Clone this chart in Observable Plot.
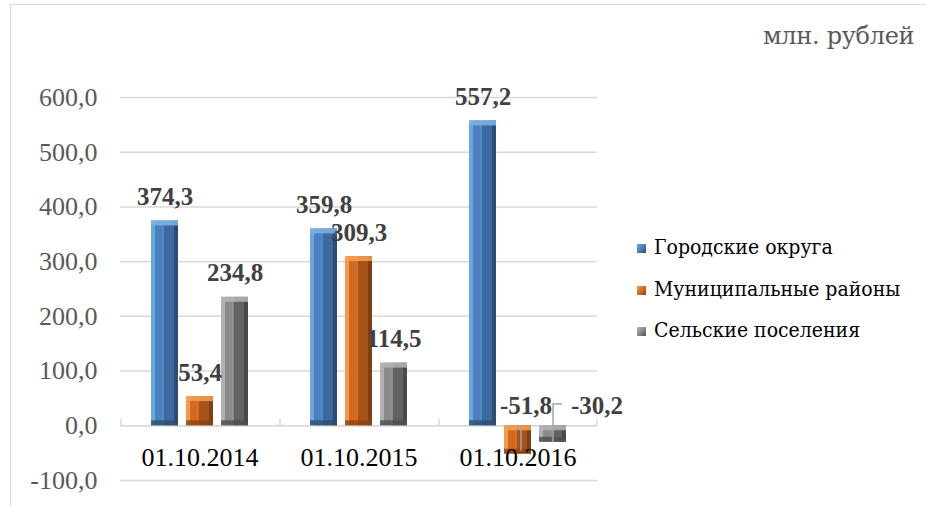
<!DOCTYPE html>
<html>
<head>
<meta charset="utf-8">
<script src="https://cdn.jsdelivr.net/npm/d3@7"></script>
<script src="https://cdn.jsdelivr.net/npm/@observablehq/plot@0.6"></script>
<style>
  body { margin: 0; background: #fff; }
  #wrap { position: relative; width: 926px; height: 506px; overflow: hidden; font-family: "DejaVu Serif", serif; }
  #frameBorder { position: absolute; left: 10px; top: 4px; width: 960px; height: 540px; border: 1.5px solid #d9d9d9; box-sizing: border-box; }
  #chart { position: absolute; left: 0; top: 0; }
  #unit { position: absolute; left: 763px; top: 22px; font-size: 24px; color: #595959; white-space: nowrap; font-family: "DejaVu Serif", serif; letter-spacing: -0.3px; }
  .leg { position: absolute; left: 637px; font-size: 21px; color: #000; white-space: nowrap; line-height: 24px; font-family: "DejaVu Serif Condensed", "DejaVu Serif", serif; }
  .leg .sw { display: inline-block; width: 9px; height: 9px; margin-right: 8px; vertical-align: 1px; }
</style>
</head>
<body>
<div id="wrap">
  <div id="frameBorder"></div>
  <div id="chart"></div>
  <div id="unit">млн. рублей</div>
  <div id="legend"></div>
</div>
<script>
// ---- data ----
const dates = ["01.10.2014", "01.10.2015", "01.10.2016"];
const series = ["Городские округа", "Муниципальные районы", "Сельские поселения"];
const gorodskieOkruga = [374.3, 359.8, 557.2];
const municipalnyeRayony = [53.4, 309.3, -51.8];
const selskiePoseleniya = [234.8, 114.5, -30.2];
const yTicks = [-100, 0, 100, 200, 300, 400, 500, 600];

const seriesValues = [gorodskieOkruga, municipalnyeRayony, selskiePoseleniya];
const gradIds = ["gBlue", "gOrange", "gGray"];
const capColors = ["#7db4e8", "#f7a053", "#b5b5b5"];
const baseColors = ["#2c4d74", "#8a4413", "#4d4d4d"];
const legendBg = [
  "linear-gradient(135deg,#6aa6df 0%,#4a80bd 50%,#2c4d74 100%)",
  "linear-gradient(135deg,#f7a053 0%,#d2691e 50%,#8a4413 100%)",
  "linear-gradient(135deg,#b5b5b5 0%,#8a8a8a 50%,#4d4d4d 100%)"
];

const rows = [];
dates.forEach((d, i) => series.forEach((s, j) => rows.push({date: d, series: s, si: j, value: seriesValues[j][i]})));
const pos = rows.filter(r => r.value >= 0);
const neg = rows.filter(r => r.value < 0);
const fmt = v => v.toFixed(1).replace(".", ",");

const marks = [
  Plot.gridY(yTicks, {stroke: "#d9d9d9", strokeOpacity: 1, strokeWidth: 1.5}),
  Plot.ruleY([0], {stroke: "#d9d9d9", strokeWidth: 1.5}),
  Plot.ruleX(dates, {fx: d => d, x: () => series[0], dx: -44, y1: 0, y2: 12, stroke: "#d9d9d9", strokeWidth: 1.5}),
  Plot.ruleX([dates[2]], {fx: d => d, x: () => series[2], dx: 44, y1: 0, y2: 12, stroke: "#d9d9d9", strokeWidth: 1.5}),
  Plot.axisY({ticks: yTicks, tickSize: 0, tickPadding: 23, tickFormat: fmt, fill: "#595959", fontSize: 26, label: null}),
];
series.forEach((s, j) => {
  const data = rows.filter(r => r.si === j);
  marks.push(Plot.barY(data, {fx: "date", x: "series", y: "value", fill: `url(#${gradIds[j]})`}));
  marks.push(Plot.rect(data, {fx: "date", x: "series", y1: d => Math.max(d.value, 0), y2: d => Math.max(d.value, 0), insetBottom: -5, fill: capColors[j], fillOpacity: 0.85}));
  marks.push(Plot.rect(data, {fx: "date", x: "series", y1: d => Math.min(d.value, 0), y2: d => Math.min(d.value, 0), insetTop: -5, fill: baseColors[j], fillOpacity: 0.8}));
});
marks.push(
  Plot.text(dates, {fx: d => d, text: d => d, y: () => -58, fontSize: 26, fill: "#000"}),
  Plot.text(pos, {fx: "date", x: "series", y: "value", text: d => fmt(d.value), dy: -24, fontSize: 25, fontWeight: "bold", fill: "#404040"}),
  Plot.ruleX([neg[0]], {fx: "date", x: "series", y1: -3, y2: -46, dx: 3, stroke: "#a6a6a6", strokeWidth: 1.5}),
  Plot.ruleX([neg[1]], {fx: "date", x: "series", y1: -31, y2: 40, stroke: "#a6a6a6", strokeWidth: 1.5}),
  Plot.tickY([neg[1]], {fx: "date", x: "series", y: () => 40, insetLeft: 14, insetRight: 4, stroke: "#a6a6a6", strokeWidth: 1.5}),
  Plot.text([neg[0]], {fx: "date", x: "series", y: () => 0, text: d => fmt(d.value), dx: 8, dy: -20, fontSize: 25, fontWeight: "bold", fill: "#404040"}),
  Plot.text([neg[1]], {fx: "date", x: "series", y: () => 0, text: d => fmt(d.value), dx: 44, dy: -20, fontSize: 25, fontWeight: "bold", fill: "#404040"})
);

const chart = Plot.plot({
  width: 926,
  height: 506,
  marginLeft: 119,
  marginRight: 328,
  marginTop: 97,
  marginBottom: 26,
  style: {fontFamily: "'Liberation Serif', 'Times New Roman', serif", fontSize: "26px", background: "transparent", overflow: "visible"},
  fx: {domain: dates, padding: 0, axis: null, label: null},
  x: {domain: series, paddingInner: 0.222, paddingOuter: 0.833, axis: null, label: null},
  y: {domain: [-100, 600], axis: null, label: null},
  marks
});

const defs = d3.select(chart).insert("defs", ":first-child");
const grads = [
  ["gBlue",   ["#6aa6df", "#4a80bd", "#5a93d0", "#3d6a9e", "#2c4d74"]],
  ["gOrange", ["#f59a4a", "#d36a1f", "#e27a2b", "#a8531a", "#7f3f12"]],
  ["gGray",   ["#b0b0b0", "#8a8a8a", "#9a9a9a", "#626262", "#4a4a4a"]]
];
grads.forEach(([id, c]) => {
  const g = defs.append("linearGradient").attr("id", id).attr("x1", 0).attr("x2", 1).attr("y1", 0).attr("y2", 0);
  [[0, c[0]], [0.15, c[0]], [0.15, c[1]], [0.4, c[1]], [0.45, c[2]], [0.5, c[3]], [0.85, c[3]], [0.85, c[4]], [1, c[4]]]
    .forEach(([o, col]) => g.append("stop").attr("offset", o).attr("stop-color", col));
});
document.getElementById("chart").appendChild(chart);

const legendTops = [235, 277, 318];
const legend = document.getElementById("legend");
series.forEach((s, j) => {
  const el = document.createElement("div");
  el.className = "leg";
  el.style.top = legendTops[j] + "px";
  el.innerHTML = `<span class="sw" style="background:${legendBg[j]}"></span>${s}`;
  legend.appendChild(el);
});
</script>
</body>
</html>
